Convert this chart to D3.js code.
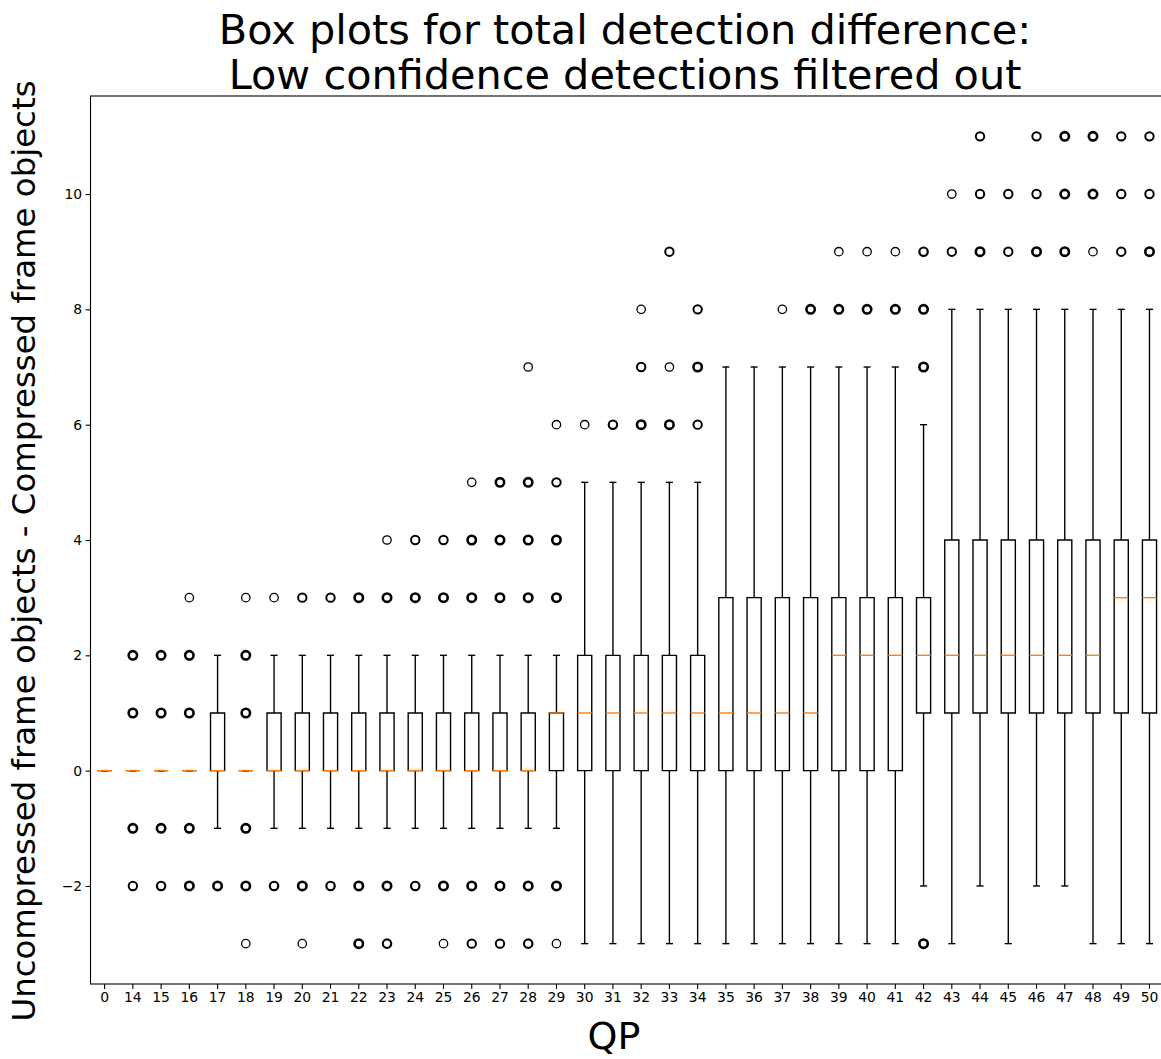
<!DOCTYPE html>
<html>
<head>
<meta charset="utf-8">
<script src="https://cdn.jsdelivr.net/npm/d3@7"></script>
<style>
  body { margin: 0; background: #fff; }
  svg { display: block; }
  text { font-family: "DejaVu Sans", sans-serif; }
</style>
</head>
<body>
<svg id="chart" width="1161" height="1059"></svg>
<script>
// QP values (0 = uncompressed reference run)
const categories = ["0", "14", "15", "16", "17", "18", "19", "20", "21", "22", "23", "24", "25",
  "26", "27", "28", "29", "30", "31", "32", "33", "34", "35", "36", "37", "38", "39", "40",
  "41", "42", "43", "44", "45", "46", "47", "48", "49", "50"];

// Box statistics per QP
const q1 = [0, 0, 0, 0, 0, 0, 0, 0, 0, 0, 0, 0, 0,
  0, 0, 0, 0, 0, 0, 0, 0, 0, 0, 0, 0, 0, 0, 0,
  0, 1, 1, 1, 1, 1, 1, 1, 1, 1];
const medians = [0, 0, 0, 0, 0, 0, 0, 0, 0, 0, 0, 0, 0,
  0, 0, 0, 1, 1, 1, 1, 1, 1, 1, 1, 1, 1, 2, 2,
  2, 2, 2, 2, 2, 2, 2, 2, 3, 3];
const q3 = [0, 0, 0, 0, 1, 0, 1, 1, 1, 1, 1, 1, 1,
  1, 1, 1, 1, 2, 2, 2, 2, 2, 3, 3, 3, 3, 3, 3,
  3, 3, 4, 4, 4, 4, 4, 4, 4, 4];
const whiskerLow = [0, 0, 0, 0, -1, 0, -1, -1, -1, -1, -1, -1, -1,
  -1, -1, -1, -1, -3, -3, -3, -3, -3, -3, -3, -3, -3, -3, -3,
  -3, -2, -3, -2, -3, -2, -2, -3, -3, -3];
const whiskerHigh = [0, 0, 0, 0, 2, 0, 2, 2, 2, 2, 2, 2, 2,
  2, 2, 2, 2, 5, 5, 5, 5, 5, 7, 7, 7, 7, 7, 7,
  7, 6, 8, 8, 8, 8, 8, 8, 8, 8];

// Outliers per QP as [value, number of overlapping observations]
const outliers = [
  [],
  [[2, 8], [1, 8], [-1, 8], [-2, 3]],
  [[2, 8], [1, 8], [-1, 8], [-2, 4]],
  [[3, 1], [2, 8], [1, 8], [-1, 8], [-2, 8]],
  [[-2, 8]],
  [[3, 1], [2, 8], [1, 8], [-1, 8], [-2, 8], [-3, 1]],
  [[3, 1], [-2, 4]],
  [[3, 3], [-2, 8], [-3, 1]],
  [[3, 3], [-2, 4]],
  [[3, 8], [-2, 8], [-3, 8]],
  [[4, 1], [3, 8], [-2, 8], [-3, 4]],
  [[4, 3], [3, 8], [-2, 4]],
  [[4, 3], [3, 8], [-2, 8], [-3, 1]],
  [[5, 1], [4, 8], [3, 8], [-2, 8], [-3, 3]],
  [[5, 8], [4, 8], [3, 8], [-2, 8], [-3, 3]],
  [[7, 1], [5, 8], [4, 8], [3, 8], [-2, 8], [-3, 4]],
  [[6, 1], [5, 3], [4, 8], [3, 8], [-2, 8], [-3, 1]],
  [[6, 1]],
  [[6, 4]],
  [[8, 1], [7, 3], [6, 8]],
  [[9, 3], [7, 1], [6, 8]],
  [[8, 3], [7, 8], [6, 3]],
  [],
  [],
  [[8, 1]],
  [[8, 8]],
  [[9, 1], [8, 8]],
  [[9, 1], [8, 8]],
  [[9, 1], [8, 8]],
  [[9, 4], [8, 8], [7, 8], [-3, 8]],
  [[10, 1], [9, 3]],
  [[11, 3], [10, 3], [9, 8]],
  [[10, 3], [9, 3]],
  [[11, 3], [10, 3], [9, 8]],
  [[11, 8], [10, 8], [9, 8]],
  [[11, 8], [10, 8], [9, 1]],
  [[11, 3], [10, 3], [9, 3]],
  [[11, 3], [10, 3], [9, 8]]
];

const yTicks = [-2, 0, 2, 4, 6, 8, 10];
const titleLines = ["Box plots for total detection difference:", "Low confidence detections filtered out"];
const xLabel = "QP";
const yLabel = "Uncompressed frame objects - Compressed frame objects";

const svg = d3.select("#chart");
const plot = { left: 90.5, top: 96, right: 1163.6, bottom: 984 };

const x = d3.scaleBand().domain(categories).range([plot.left, plot.right]).padding(0);
const y = d3.scaleLinear().domain([-3.7, 11.7]).range([plot.bottom, plot.top]);

const lw = 1.39;                    // 1pt line at 100 dpi
const boxW = x.bandwidth() * 0.5;
const capW = boxW * 0.5;
const cx = c => x(c) + x.bandwidth() / 2;

const stats = categories.map((c, i) => ({
  c, q1: q1[i], med: medians[i], q3: q3[i], lo: whiskerLow[i], hi: whiskerHigh[i], out: outliers[i]
}));

const g = svg.append("g");

// whiskers
g.selectAll("line.whisker-lo").data(stats).join("line")
  .attr("x1", d => cx(d.c)).attr("x2", d => cx(d.c))
  .attr("y1", d => y(d.q1)).attr("y2", d => y(d.lo))
  .attr("stroke", "#000").attr("stroke-width", lw);
g.selectAll("line.whisker-hi").data(stats).join("line")
  .attr("x1", d => cx(d.c)).attr("x2", d => cx(d.c))
  .attr("y1", d => y(d.q3)).attr("y2", d => y(d.hi))
  .attr("stroke", "#000").attr("stroke-width", lw);

// caps
["lo", "hi"].forEach(k => {
  g.append("g").selectAll("line").data(stats).join("line")
    .attr("x1", d => cx(d.c) - capW / 2).attr("x2", d => cx(d.c) + capW / 2)
    .attr("y1", d => y(d[k])).attr("y2", d => y(d[k]))
    .attr("stroke", "#000").attr("stroke-width", lw);
});

// boxes (closed paths so that collapsed boxes still draw as a line)
g.append("g").selectAll("path").data(stats).join("path")
  .attr("d", d => {
    const p = d3.path();
    const x0 = cx(d.c) - boxW / 2, x1 = cx(d.c) + boxW / 2;
    p.moveTo(x0, y(d.q1)); p.lineTo(x1, y(d.q1)); p.lineTo(x1, y(d.q3));
    p.lineTo(x0, y(d.q3)); p.closePath();
    return p.toString();
  })
  .attr("fill", "none").attr("stroke", "#000").attr("stroke-width", lw)
  .attr("stroke-linejoin", "miter");

// medians
g.append("g").selectAll("line").data(stats).join("line")
  .attr("x1", d => cx(d.c) - boxW / 2).attr("x2", d => cx(d.c) + boxW / 2)
  .attr("y1", d => y(d.med)).attr("y2", d => y(d.med))
  .attr("stroke", "#ff7f0e").attr("stroke-width", lw);

// fliers: heavier outline where many observations coincide
const edge = d3.scaleLog().domain([1, 8]).range([1.3, 2.6]).clamp(true);
const fliers = stats.flatMap(d => d.out.map(([v, n]) => ({ c: d.c, v, n })));
g.append("g").selectAll("circle").data(fliers).join("circle")
  .attr("cx", d => cx(d.c)).attr("cy", d => y(d.v)).attr("r", 4.2)
  .attr("fill", "none").attr("stroke", "#000").attr("stroke-width", d => edge(d.n));

// axes
const fmt = d => String(d).replace("-", "\u2212");
const xAxis = svg.append("g").attr("transform", `translate(0,${plot.bottom})`)
  .call(d3.axisBottom(x).tickSize(4.9).tickPadding(3.5));
const yAxis = svg.append("g").attr("transform", `translate(${plot.left},0)`)
  .call(d3.axisLeft(y).tickValues(yTicks).tickFormat(fmt).tickSize(4.9).tickPadding(3.5));
[xAxis, yAxis].forEach(a => {
  a.select(".domain").remove();
  a.selectAll(".tick line").attr("stroke", "#000").attr("stroke-width", 1.1);
  a.selectAll(".tick text").attr("fill", "#000").style("font-size", "13.9px")
    .style("font-family", "'DejaVu Sans', sans-serif");
});

// spines
svg.append("rect")
  .attr("x", plot.left).attr("y", plot.top)
  .attr("width", plot.right - plot.left).attr("height", plot.bottom - plot.top)
  .attr("fill", "none").attr("stroke", "#000").attr("stroke-width", 1.1);

// title
const midX = (plot.left + plot.right) / 2;
svg.append("g").selectAll("text").data(titleLines).join("text")
  .attr("x", midX - 2).attr("y", (d, i) => 44 + i * 45)
  .attr("text-anchor", "middle").style("font-size", "41.4px").attr("fill", "#000")
  .text(d => d);

// axis labels
svg.append("text").attr("x", 614).attr("y", 1049)
  .attr("text-anchor", "middle").style("font-size", "38px").attr("fill", "#000").text(xLabel);
svg.append("text")
  .attr("transform", `translate(35,551) rotate(-90)`)
  .attr("text-anchor", "middle").style("font-size", "32.4px").attr("fill", "#000").text(yLabel);
</script>
</body>
</html>
